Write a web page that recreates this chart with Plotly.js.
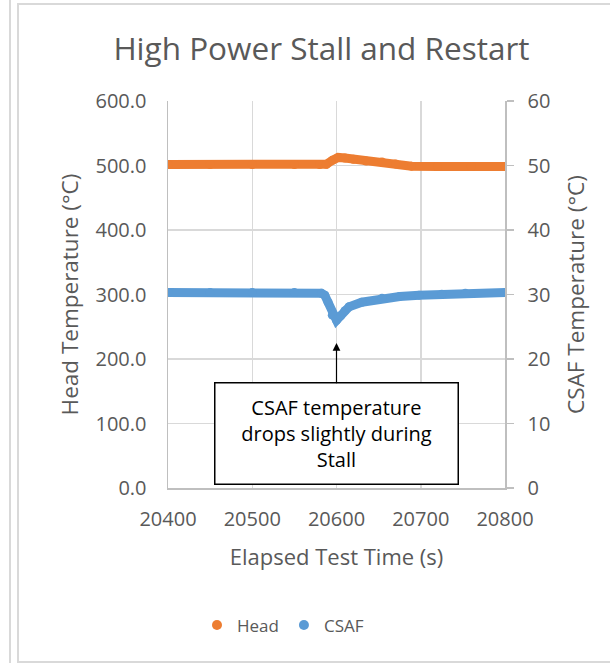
<!DOCTYPE html>
<html>
<head>
<meta charset="utf-8">
<script src="https://cdn.plot.ly/plotly-3.0.1.min.js"></script>
<style>
  html, body { margin: 0; padding: 0; background: #fff; }
  #wrap { position: relative; width: 610px; height: 663px; overflow: hidden; }
  #chart { position: absolute; left: 0; top: 0; width: 610px; height: 663px; }
  .frame { position: absolute; pointer-events: none; }
</style>
</head>
<body>
<div id="wrap">
  <div id="chart"></div>
  <div class="frame" style="left:9px; top:0; width:2px; height:663px; background:#d9d9d9;"></div>
  <div class="frame" style="left:17px; top:3px; width:620px; height:656px; border:2px solid #d9d9d9;"></div>
</div>
<script>
// Head temperature (°C), left axis
const headTime = [20400, 20450, 20500, 20550, 20580, 20588, 20595, 20602, 20610, 20620, 20635, 20654, 20670, 20689, 20720, 20760, 20800];
const headTemp = [501.5, 501.5, 501.5, 501.5, 501.5, 502, 508, 512.5, 511.5, 509.5, 507, 505.5, 502.5, 499, 498.5, 498.5, 498.5];

// CSAF temperature (°C), right axis
const csafTime = [20400, 20450, 20500, 20550, 20582, 20586, 20590, 20595, 20600, 20605, 20610, 20615, 20630, 20654, 20675, 20698, 20725, 20753, 20800];
const csafTemp = [30.3, 30.3, 30.3, 30.3, 30.2, 29.9, 28.8, 26.8, 26.0, 26.7, 27.5, 28.1, 28.8, 29.4, 29.7, 29.9, 30.05, 30.2, 30.3];

const leftTicks = [0, 100, 200, 300, 400, 500, 600];
const leftTickText = ["0.0", "100.0", "200.0", "300.0", "400.0", "500.0", "600.0"];
const rightTicks = [0, 10, 20, 30, 40, 50, 60];
const xTicks = [20400, 20500, 20600, 20700, 20800];

const titleText = "High Power Stall and Restart";
const annText = "CSAF temperature<br>drops slightly during<br>Stall";

const orange = "#ED7D31";
const blue = "#5B9BD5";
const txt = "#595959";
const font = "'Open Sans', Calibri, sans-serif";

const traces = [
  { x: headTime, y: headTemp, type: "scatter", mode: "lines+markers", name: "Head",
    line: { color: orange, width: 9 }, marker: { color: orange, size: 9 }, showlegend: false, yaxis: "y" },
  { x: csafTime, y: csafTemp, type: "scatter", mode: "lines+markers", name: "CSAF",
    line: { color: blue, width: 9 }, marker: { color: blue, size: 9 }, showlegend: false, yaxis: "y2" },
  { x: [null], y: [null], type: "scatter", mode: "markers", name: "Head",
    marker: { color: orange, size: 10 }, showlegend: true, yaxis: "y" },
  { x: [null], y: [null], type: "scatter", mode: "markers", name: "CSAF",
    marker: { color: blue, size: 10 }, showlegend: true, yaxis: "y2" }
];

const layout = {
  width: 610, height: 663,
  margin: { l: 168, r: 105, t: 101, b: 175 },
  paper_bgcolor: "#fff", plot_bgcolor: "#fff",
  font: { family: font, color: txt, size: 20 },
  title: { text: titleText, font: { family: font, size: 31.5, color: txt }, x: 0.527, xanchor: "center", y: 0.926, yanchor: "middle" },
  xaxis: {
    range: [20400, 20800], tickvals: xTicks, ticktext: xTicks.map(String),
    showgrid: true, gridcolor: "#d9d9d9", gridwidth: 1.5,
    showline: true, linecolor: "#bfbfbf", linewidth: 1.5, ticks: "", zeroline: false,
    ticklabelstandoff: 12,
    tickfont: { family: font, size: 20, color: txt },
    title: { text: "Elapsed Test Time (s)", font: { family: font, size: 22, color: txt }, standoff: 19 }
  },
  yaxis: {
    range: [0, 600], tickvals: leftTicks, ticktext: leftTickText,
    showgrid: true, gridcolor: "#d9d9d9", gridwidth: 1.5,
    showline: true, linecolor: "#bfbfbf", linewidth: 1.5, ticks: "", zeroline: false,
    ticklabelstandoff: 16,
    tickfont: { family: font, size: 20, color: txt },
    title: { text: "Head Temperature (°C)", font: { family: font, size: 22.5, color: txt }, standoff: 10 }
  },
  yaxis2: {
    range: [0, 60], tickvals: rightTicks, ticktext: rightTicks.map(String),
    overlaying: "y", side: "right", showgrid: false,
    showline: true, linecolor: "#bfbfbf", linewidth: 1.5, ticks: "outside", ticklen: 7, tickcolor: "#bfbfbf", tickwidth: 1.5, zeroline: false,
    ticklabelstandoff: 10,
    tickfont: { family: font, size: 20, color: txt },
    title: { text: "CSAF Temperature (°C)", font: { family: font, size: 22.5, color: txt }, standoff: 19 }
  },
  legend: { orientation: "h", x: 0.086, xanchor: "left", y: -0.355, yanchor: "middle",
    font: { family: font, size: 17, color: txt }, itemwidth: 30, tracegroupgap: 0 },
  annotations: [{
    x: 20600, y: 225, xref: "x", yref: "y",
    text: annText, showarrow: true, arrowhead: 2, arrowsize: 1.3, arrowwidth: 1.2, arrowcolor: "#000",
    ax: 0, ay: 91, axref: "pixel", ayref: "pixel",
    bordercolor: "#000", borderwidth: 1.5, borderpad: 4, bgcolor: "#fff",
    width: 234, height: 92, align: "center",
    font: { family: font, size: 20, color: "#000" }
  }]
};

Plotly.newPlot("chart", traces, layout, { displayModeBar: false, staticPlot: true });
</script>
</body>
</html>
